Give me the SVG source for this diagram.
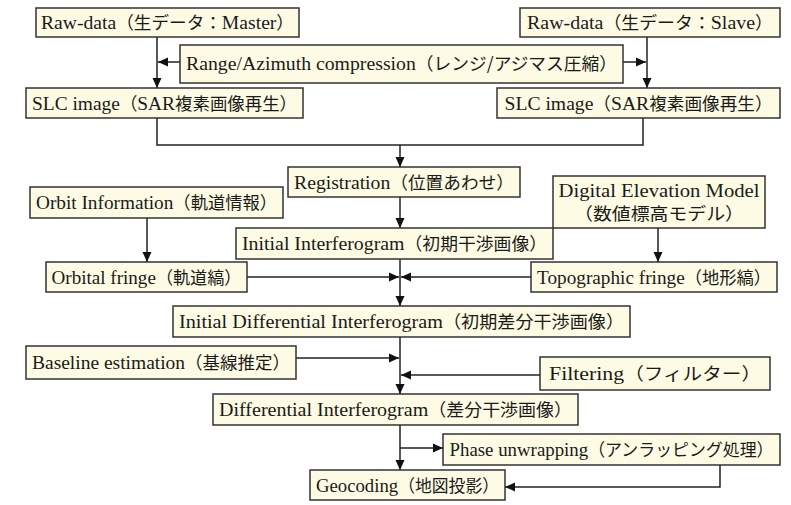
<svg xmlns="http://www.w3.org/2000/svg" width="791" height="505" viewBox="0 0 791 505">
<style>
.box{fill:#FEFBE4;stroke:#333;stroke-width:1.5}
.t{font-family:"Liberation Serif","Noto Sans CJK JP",serif;font-size:19.5px;fill:#1a1a1a;text-anchor:middle}
.j{font-family:"Noto Sans CJK JP",sans-serif;font-size:17.5px}
.c{fill:none;stroke:#222;stroke-width:1.5}
</style>
<defs>
<marker id="a" markerUnits="userSpaceOnUse" markerWidth="10" markerHeight="10" refX="10" refY="5" orient="auto"><path d="M0,0.5 L10,5 L0,9.5 z" fill="#111"/></marker>
</defs>
<rect width="791" height="505" fill="#fff"/>
<g id="connectors">
<path class="c" d="M157,36 V88" marker-end="url(#a)"/>
<path class="c" d="M647,37 V88" marker-end="url(#a)"/>
<path class="c" d="M180,62 H158" marker-end="url(#a)"/>
<path class="c" d="M623,62 H646" marker-end="url(#a)"/>
<path class="c" d="M157,118 V145 H643 V118"/>
<path class="c" d="M400,145 V167" marker-end="url(#a)"/>
<path class="c" d="M400,197 V228" marker-end="url(#a)"/>
<path class="c" d="M400,259 V306" marker-end="url(#a)"/>
<path class="c" d="M147,218 V262" marker-end="url(#a)"/>
<path class="c" d="M658,228 V262" marker-end="url(#a)"/>
<path class="c" d="M247,277 H399" marker-end="url(#a)"/>
<path class="c" d="M531,277 H401" marker-end="url(#a)"/>
<path class="c" d="M400,337 V394" marker-end="url(#a)"/>
<path class="c" d="M296,358 H399" marker-end="url(#a)"/>
<path class="c" d="M540,375 H401" marker-end="url(#a)"/>
<path class="c" d="M400,425 V470" marker-end="url(#a)"/>
<path class="c" d="M400,448 H443" marker-end="url(#a)"/>
<path class="c" d="M720,465 V487 H505" marker-end="url(#a)"/>
</g>
<g id="raw-master"><rect class="box" x="36" y="8" width="263" height="29"/><text class="t" x="167.5" y="29" textLength="253" lengthAdjust="spacingAndGlyphs">Raw-data<tspan class="j">（生データ：</tspan>Master<tspan class="j">）</tspan></text></g>
<g id="raw-slave"><rect class="box" x="520" y="8" width="260" height="29"/><text class="t" x="650" y="29" textLength="246" lengthAdjust="spacingAndGlyphs">Raw-data<tspan class="j">（生データ：</tspan>Slave<tspan class="j">）</tspan></text></g>
<g id="compression"><rect class="box" x="180" y="45" width="443" height="38"/><text class="t" x="401.5" y="70" textLength="431" lengthAdjust="spacingAndGlyphs">Range/Azimuth compression<tspan class="j">（レンジ/アジマス圧縮）</tspan></text></g>
<g id="slc-master"><rect class="box" x="26" y="88" width="277" height="30"/><text class="t" x="164.5" y="110" textLength="265" lengthAdjust="spacingAndGlyphs">SLC image<tspan class="j">（</tspan>SAR<tspan class="j">複素画像再生）</tspan></text></g>
<g id="slc-slave"><rect class="box" x="497" y="88" width="283" height="30"/><text class="t" x="638.5" y="110" textLength="268" lengthAdjust="spacingAndGlyphs">SLC image<tspan class="j">（</tspan>SAR<tspan class="j">複素画像再生）</tspan></text></g>
<g id="registration"><rect class="box" x="288" y="167" width="232" height="30"/><text class="t" x="404" y="189" textLength="220" lengthAdjust="spacingAndGlyphs">Registration<tspan class="j">（位置あわせ）</tspan></text></g>
<g id="orbit-info"><rect class="box" x="30" y="187" width="253" height="31"/><text class="t" x="156.5" y="209" textLength="241" lengthAdjust="spacingAndGlyphs">Orbit Information<tspan class="j">（軌道情報）</tspan></text></g>
<g id="dem"><rect class="box" x="553" y="176" width="212" height="52"/><text class="t" x="659" y="197" textLength="201" lengthAdjust="spacingAndGlyphs">Digital Elevation Model</text><text class="t" x="659" y="220" textLength="170" lengthAdjust="spacingAndGlyphs"><tspan class="j">（数値標高モデル）</tspan></text></g>
<g id="initial-interferogram"><rect class="box" x="236" y="228" width="317" height="31"/><text class="t" x="394.5" y="250" textLength="305" lengthAdjust="spacingAndGlyphs">Initial Interferogram<tspan class="j">（初期干渉画像）</tspan></text></g>
<g id="orbital-fringe"><rect class="box" x="46" y="262" width="201" height="30"/><text class="t" x="146.5" y="284" textLength="190" lengthAdjust="spacingAndGlyphs">Orbital fringe<tspan class="j">（軌道縞）</tspan></text></g>
<g id="topographic-fringe"><rect class="box" x="531" y="262" width="246" height="30"/><text class="t" x="654" y="284" textLength="234" lengthAdjust="spacingAndGlyphs">Topographic fringe<tspan class="j">（地形縞）</tspan></text></g>
<g id="initial-differential"><rect class="box" x="173" y="306" width="457" height="31"/><text class="t" x="401.5" y="328" textLength="445" lengthAdjust="spacingAndGlyphs">Initial Differential Interferogram<tspan class="j">（初期差分干渉画像）</tspan></text></g>
<g id="baseline"><rect class="box" x="26" y="346" width="270" height="33"/><text class="t" x="161" y="369" textLength="258" lengthAdjust="spacingAndGlyphs">Baseline estimation<tspan class="j">（基線推定）</tspan></text></g>
<g id="filtering"><rect class="box" x="540" y="357" width="230" height="33"/><text class="t" x="655" y="380" textLength="212" lengthAdjust="spacingAndGlyphs">Filtering<tspan class="j">（フィルター）</tspan></text></g>
<g id="differential"><rect class="box" x="213" y="394" width="365" height="31"/><text class="t" x="395.5" y="416" textLength="353" lengthAdjust="spacingAndGlyphs">Differential Interferogram<tspan class="j">（差分干渉画像）</tspan></text></g>
<g id="phase-unwrapping"><rect class="box" x="443" y="434" width="337" height="31"/><text class="t" x="611.5" y="456" textLength="324" lengthAdjust="spacingAndGlyphs">Phase unwrapping<tspan class="j">（アンラッピング処理）</tspan></text></g>
<g id="geocoding"><rect class="box" x="310" y="470" width="195" height="30"/><text class="t" x="407.5" y="492" textLength="183" lengthAdjust="spacingAndGlyphs">Geocoding<tspan class="j">（地図投影）</tspan></text></g>
</svg>
